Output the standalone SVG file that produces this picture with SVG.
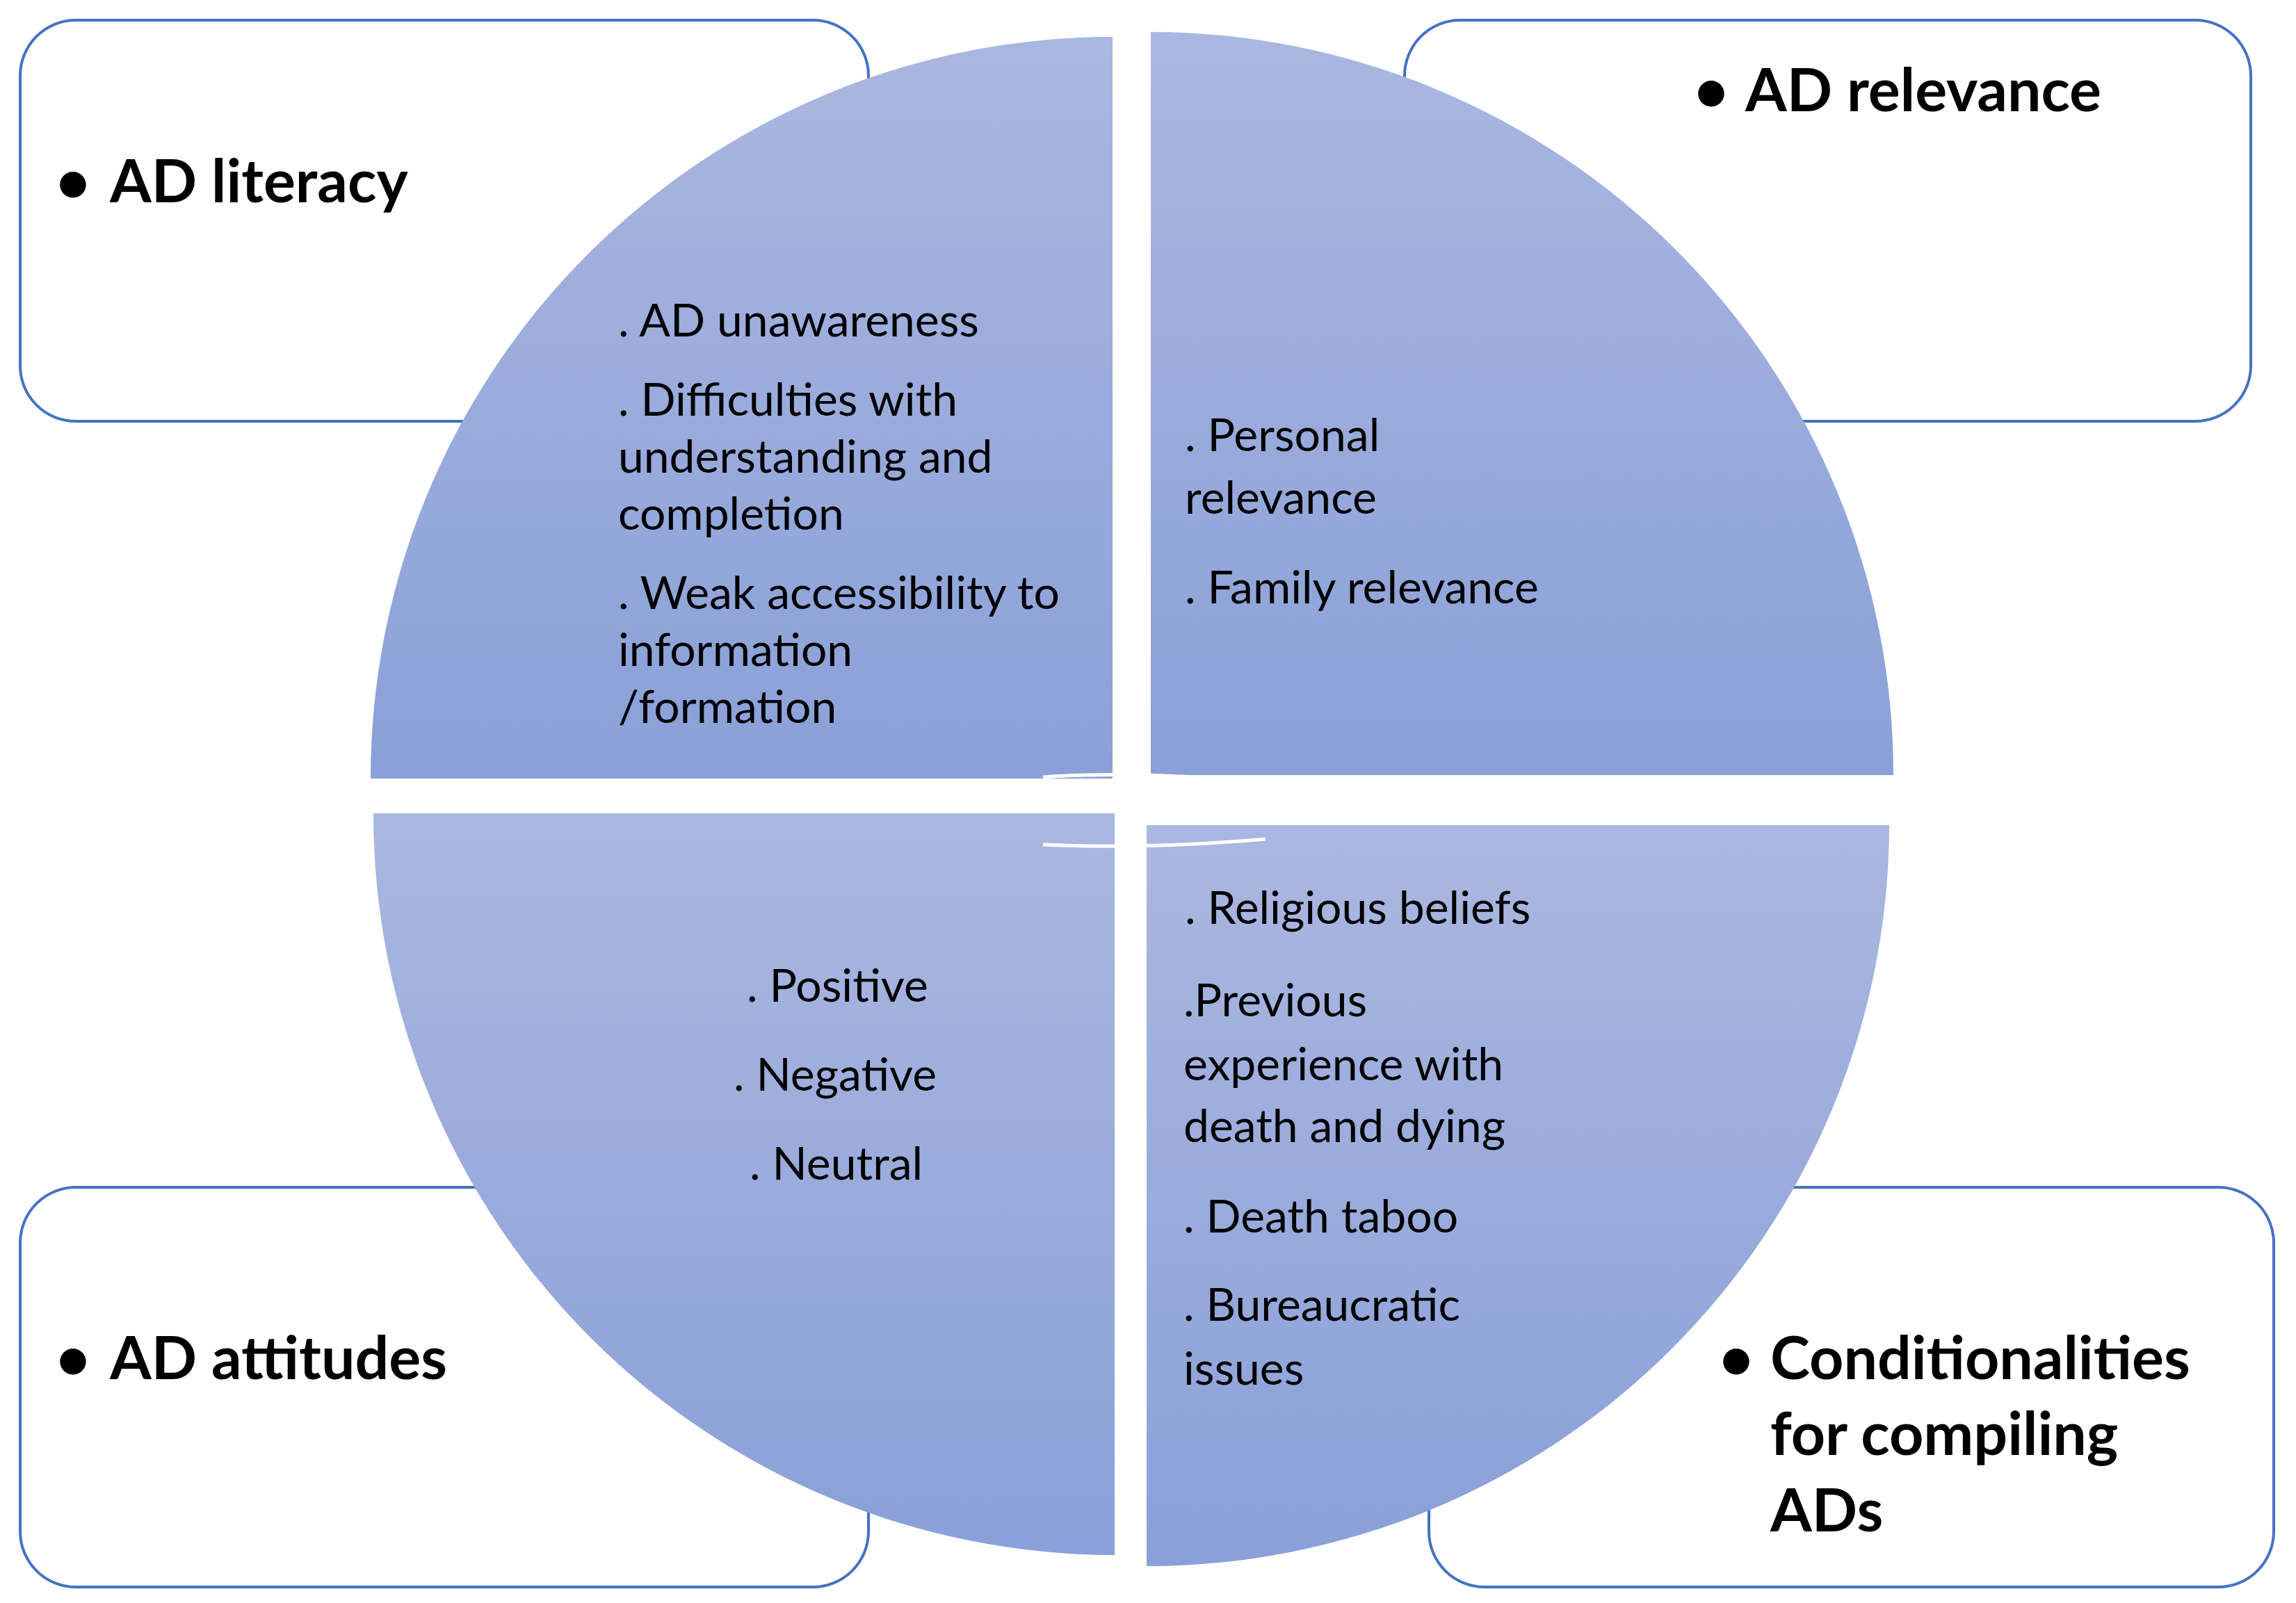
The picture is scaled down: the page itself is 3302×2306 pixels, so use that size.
<svg xmlns="http://www.w3.org/2000/svg" width="3302" height="2306" viewBox="0 0 3302 2306">
<style>
.box{fill:#fff;stroke:#4472C4;stroke-width:4}
.t{font-family:Lato,"Open Sans",sans-serif;font-size:66px;fill:#000}
.h{font-family:Lato,"Open Sans",sans-serif;font-size:86px;font-weight:bold;fill:#000}
.sep{fill:none;stroke:#fff;stroke-width:5}
</style>
<defs>
<linearGradient id="gT" x1="0" y1="0" x2="0" y2="1"><stop offset="0" stop-color="#AAB7E0"/><stop offset="1" stop-color="#8AA0D8"/></linearGradient>
</defs>
<g id="box-literacy"><rect class="box" x="29" y="29" width="1220" height="577" rx="80"/><text class="h" x="80" y="291">•</text><text class="h" x="158" y="291">AD literacy</text></g>
<g id="box-relevance"><rect class="box" x="2020" y="29" width="1217" height="577" rx="80"/><text class="h" x="2436" y="160">•</text><text class="h" x="2510" y="160">AD relevance</text></g>
<g id="box-attitudes"><rect class="box" x="29" y="1708" width="1220" height="575" rx="80"/><text class="h" x="80" y="1984">•</text><text class="h" x="158" y="1984">AD attitudes</text></g>
<g id="box-conditionalities"><rect class="box" x="2055" y="1708" width="1215" height="575" rx="80"/><text class="h" x="2472" y="1984">•</text><text class="h" x="2546" y="1984">Conditionalities</text><text class="h" x="2546" y="2093">for compiling</text><text class="h" x="2546" y="2203">ADs</text></g>
<g id="q-literacy"><path d="M1600 1120 L533 1120 A1067 1067 0 0 1 1600 53 Z" fill="url(#gT)"/>
<text class="t" x="889" y="484">.  AD unawareness</text>
<text class="t" x="889" y="598">. Difficulties with</text>
<text class="t" x="889" y="680">understanding and</text>
<text class="t" x="889" y="762">completion</text>
<text class="t" x="889" y="876">. Weak accessibility to</text>
<text class="t" x="889" y="958">information</text>
<text class="t" x="889" y="1040">/formation</text></g>
<g id="q-relevance"><path d="M1655 1115 L1655 46 A1069 1069 0 0 1 2723 1115 Z" fill="url(#gT)"/>
<text class="t" x="1704" y="649"> . Personal</text>
<text class="t" x="1704" y="739">relevance</text>
<text class="t" x="1704" y="868">. Family relevance</text></g>
<g id="q-attitudes"><path d="M1603 1170 L1603 2237 A1067 1067 0 0 1 537 1170 Z" fill="url(#gT)"/>
<text class="t" x="1074" y="1441">. Positive</text>
<text class="t" x="1055" y="1569">. Negative</text>
<text class="t" x="1078" y="1697">. Neutral</text></g>
<g id="q-conditionalities"><path d="M1649 1187 L2717 1187 A1068 1068 0 0 1 1649 2253 Z" fill="url(#gT)"/>
<text class="t" x="1704" y="1329"> . Religious beliefs</text>
<text class="t" x="1702" y="1462">.Previous</text>
<text class="t" x="1702" y="1554">experience with</text>
<text class="t" x="1702" y="1643">death and  dying</text>
<text class="t" x="1702" y="1773">. Death  taboo</text>
<text class="t" x="1702" y="1900">. Bureaucratic</text>
<text class="t" x="1702" y="1992">issues</text></g>
<g id="connectors">
<path class="sep" d="M1500 1215 Q1650 1222 1820 1207"/>
<path class="sep" d="M1500 1118 Q1600 1110 1760 1120"/>
</g>
</svg>
